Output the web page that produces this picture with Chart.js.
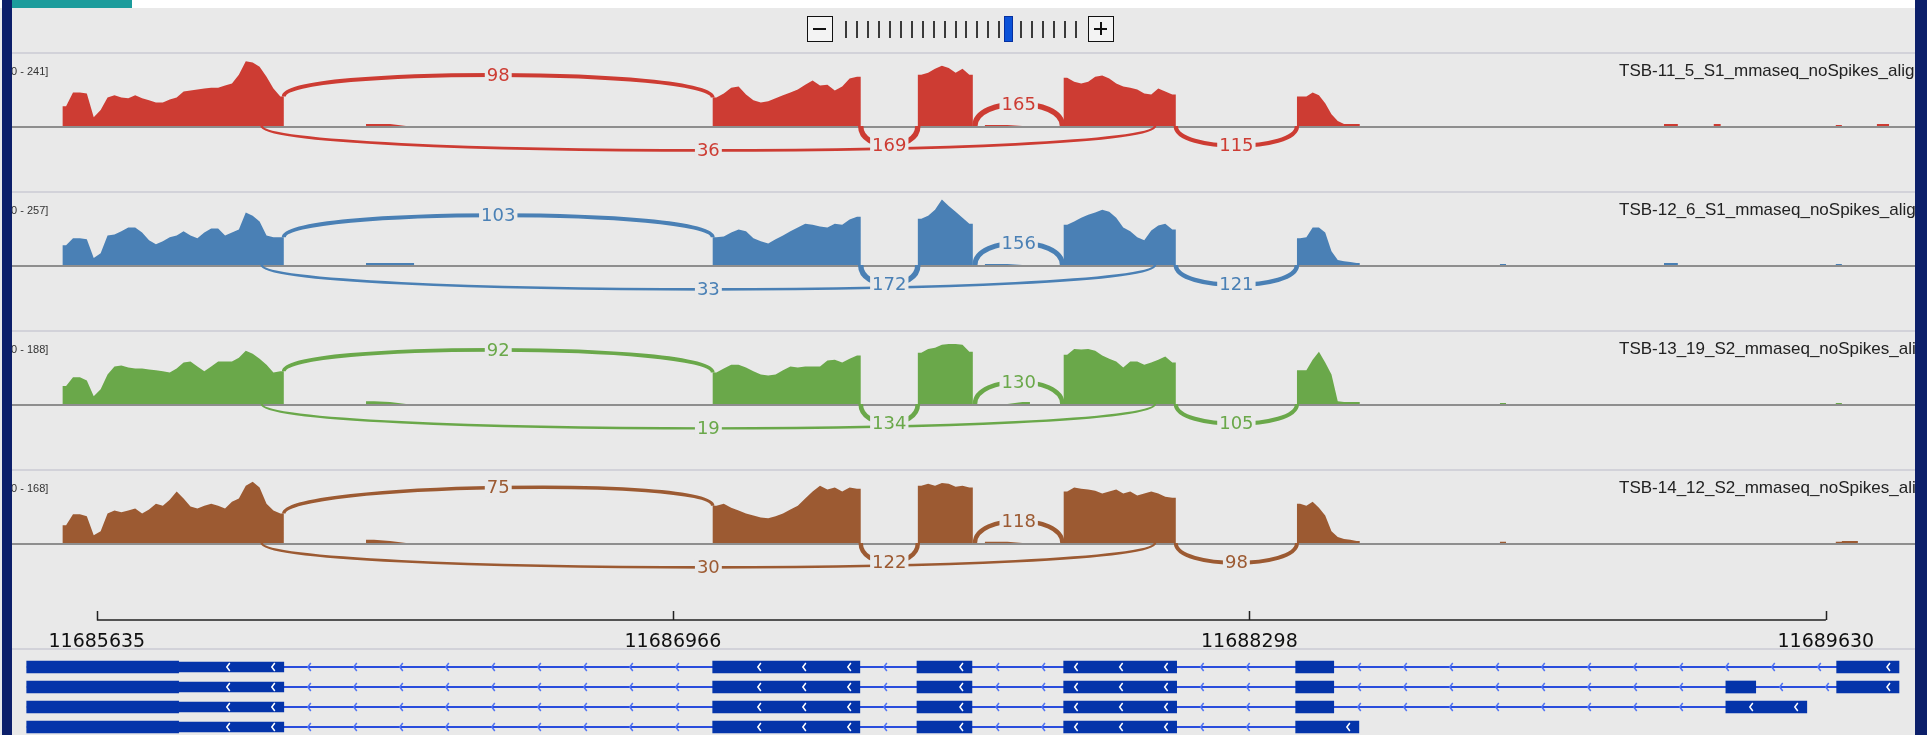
<!DOCTYPE html>
<html lang="en">
<head>
<meta charset="UTF-8">
<title>Sashimi plot</title>
<script src="https://cdn.jsdelivr.net/npm/chart.js"></script>
<style>
    * { margin: 0; padding: 0; box-sizing: border-box; }
    body {
        width: 1927px; height: 735px; overflow: hidden;
        background: #e9e9e9; position: relative;
        font-family: 'Liberation Sans', Arial, sans-serif;
    }
    .abs { position: absolute; }
    canvas { position: absolute; }
    #topStrip { left: 0; top: 0; width: 1927px; height: 8px; background: #fff; }
    #teal { left: 12px; top: 0; width: 120px; height: 8px; background: #1b9c9c; z-index: 6; }
    #navyL { left: 2px; top: 0; width: 10px; height: 735px; background: #0c1f6a; z-index: 5; }
    #navyR { left: 1915px; top: 0; width: 12px; height: 735px; background: #0c1f6a; z-index: 5; }
    .sep { left: 12px; width: 1903px; height: 2px; background: #d2d2d9; }
    .range { left: 8px; font-size: 11px; color: #333; white-space: nowrap; }
    .tname { left: 1619px; font-size: 17px; color: #222; white-space: nowrap; }
    .zbox { width: 26px; height: 26px; border: 1.5px solid #111; background: #f3f3f3; }
    .zbox i { position: absolute; background: #111; }
</style>
</head>
<body>
<div id="topStrip" class="abs"></div>
<div id="teal" class="abs"></div>
<div id="navyL" class="abs"></div>
<div id="navyR" class="abs"></div>

<!-- zoom widget -->
<div class="abs zbox" style="left:807px;top:16px"><i style="left:5px;top:11px;width:13px;height:1.5px"></i></div>
<div class="abs zbox" style="left:1088px;top:16px"><i style="left:5px;top:11px;width:13px;height:1.5px"></i><i style="left:11px;top:5px;width:1.5px;height:13px"></i></div>
<div id="zoomTicks"></div>

<div id="tracks"></div>

<div class="abs sep" style="top:648px"></div>
<canvas id="genes" width="1903" height="80" style="left:12px;top:657px"></canvas>
<canvas id="ruler" width="1903" height="75" style="left:12px;top:590px"></canvas>

<script>
    // genomic window of the data panel
    const viewStart = 11685439;
    const viewEnd = 11689836;
    const rulerTicks = [11685635, 11686966, 11688298, 11689630];

    // covered blocks (exons and small read stacks), each split in equal bins
    const covBlocks = [
        [11685556, 11686067], [11686257, 11686368], [11687058, 11687400], [11687532, 11687659],
        [11687687, 11687791], [11687869, 11688128], [11688408, 11688553],
        [11688877, 11688891], [11689256, 11689288], [11689371, 11689387],
        [11689653, 11689667], [11689667, 11689704], [11689748, 11689776]
    ];

    const trackNames = [
        'TSB-11_5_S1_mmaseq_noSpikes_aligned.bam',
        'TSB-12_6_S1_mmaseq_noSpikes_aligned.bam',
        'TSB-13_19_S2_mmaseq_noSpikes_aligned.bam',
        'TSB-14_12_S2_mmaseq_noSpikes_aligned.bam'
    ];
    const trackRanges = [241, 257, 188, 168];
    const trackColors = ['#cd3c33', '#4a80b5', '#6aa84a', '#9c5a32'];

    const cov1 = [
        [72,122,122,119,32,58,104,112,104,101,112,101,94,86,86,97,104,126,130,133,137,140,140,148,155,187,236,232,216,180,137,108],
        [7,7,0],
        [104,119,140,144,115,94,86,90,101,112,122,133,151,166,148,151,130,144,173,180],
        [187,194,209,220,212,194,209,187],
        [4,4,0],
        [176,162,155,162,180,184,173,155,144,140,133,119,115,137,126,115],
        [108,108,122,112,83,43,18,7,7,7],
        [0],[7],[7],[4],[0],[7]
    ];
    const cov2 = [
        [77,104,104,100,27,46,115,119,131,146,146,127,96,81,92,108,115,131,115,104,127,142,142,115,127,138,204,192,169,115,108,108],
        [8,8,8],
        [108,111,127,138,131,104,92,84,100,115,131,146,161,157,150,146,161,157,177,188],
        [180,192,215,255,230,207,184,161],
        [4,4,0],
        [157,169,184,196,204,215,207,184,146,131,108,96,134,154,161,138],
        [104,108,146,146,127,54,19,15,12,8],
        [4],[8],[0],[4],[0],[0]
    ];
    const cov3 = [
        [51,76,76,67,22,42,84,107,110,104,101,101,98,96,93,90,101,118,121,107,93,107,121,121,121,132,152,143,129,112,90,93],
        [8,6,0],
        [90,101,112,112,104,93,84,81,84,96,107,104,107,107,107,124,126,118,129,138],
        [146,157,160,169,171,171,169,149],
        [0,0,6],
        [140,157,155,157,152,138,129,121,104,121,121,112,118,126,135,118],
        [96,96,126,149,118,84,8,6,6,6],
        [3],[0],[0],[3],[0],[0]
    ];
    const cov4 = [
        [45,73,73,68,20,30,75,83,78,83,88,75,85,100,95,110,131,113,93,88,95,100,95,88,105,113,146,156,141,100,83,75],
        [8,5,0],
        [95,100,90,83,75,70,65,63,68,75,85,95,113,131,146,136,141,131,141,138],
        [146,151,146,153,151,143,146,141],
        [3,3,0],
        [131,141,138,136,133,126,131,136,126,131,121,126,131,126,118,115],
        [100,95,105,90,70,30,15,10,8,5],
        [3],[0],[0],[3],[5],[0]
    ];
    const coverage = [cov1, cov2, cov3, cov4];

    // splice junctions
    const juncStart = [11686067, 11686016, 11687400, 11687664, 11688128];
    const juncEnd   = [11687058, 11688080, 11687532, 11687866, 11688408];
    const juncSide  = ['up', 'down', 'down', 'up', 'down'];
    const juncCounts = [
        [98, 36, 169, 165, 115],
        [103, 33, 172, 156, 121],
        [92, 19, 134, 130, 105],
        [75, 30, 122, 118, 98]
    ];

    // gene model: four transcripts
    const geneRows = ['t1', 't2', 't3', 't4'];
    const utrBlock = [11685824, 11686067];
    const rowExons = [
        [[11685473,11685824],[11687058,11687398],[11687530,11687657],[11687869,11688130],[11688405,11688493],[11689655,11689799]],
        [[11685473,11685824],[11687058,11687398],[11687530,11687657],[11687869,11688130],[11688405,11688493],[11689399,11689468],[11689655,11689799]],
        [[11685473,11685824],[11687058,11687398],[11687530,11687657],[11687869,11688130],[11688405,11688493],[11689399,11689586]],
        [[11685473,11685824],[11687058,11687398],[11687530,11687657],[11687869,11688130],[11688405,11688551]]
    ];

    const BG = '#e9e9e9';
    const trackTops = [53, 192, 331, 470];

    // zoom widget ticks
    const zt = document.getElementById('zoomTicks');
    for (let k = 0; k < 22; k++) {
        const d = document.createElement('div');
        d.className = 'abs';
        if (k === 15) {
            d.style.cssText = 'left:1004px;top:16px;width:9px;height:26px;background:#0b52d8;border:1px solid #0630a0';
        } else {
            d.style.cssText = `left:${845 + k * 10.95}px;top:21px;width:2px;height:17px;background:#3a3a3a`;
        }
        zt.appendChild(d);
    }

    // bin values placed at bin centres, with square edges at block ends
    function covPoints(vals) {
        let pts = [{ x: viewStart, y: 0 }];
        covBlocks.forEach((b, i) => {
            let bins = vals[i];
            let w = (b[1] - b[0]) / bins.length;
            pts.push({ x: b[0], y: 0 }, { x: b[0], y: bins[0] });
            bins.forEach((v, k) => pts.push({ x: b[0] + (k + 0.5) * w, y: v }));
            pts.push({ x: b[1], y: bins[bins.length - 1] }, { x: b[1], y: 0 });
        });
        pts.push({ x: viewEnd, y: 0 });
        return pts;
    }

    function covAt(vals, bp) {
        for (let i = 0; i < covBlocks.length; i++) {
            let [s, e] = covBlocks[i];
            if (bp >= s && bp < e) {
                let w = (e - s) / vals[i].length;
                return vals[i][Math.floor((bp - s) / w)];
            }
        }
        return 0;
    }

    const sashimiArcs = {
        id: 'sashimiArcs',
        beforeDatasetsDraw(chart) {
            const { ctx, chartArea, scales: { y } } = chart;
            const y0 = y.getPixelForValue(0);
            ctx.save();
            ctx.fillStyle = '#8e8e8e';
            ctx.fillRect(chartArea.left, y0, chartArea.right - chartArea.left, 2);
            ctx.restore();
        },
        afterDatasetsDraw(chart, args, opts) {
            const { ctx, scales: { x, y } } = chart;
            const y0 = y.getPixelForValue(0);
            opts.counts.forEach((n, j) => {
                let x1 = x.getPixelForValue(juncStart[j]);
                let x2 = x.getPixelForValue(juncEnd[j]);
                let span = x2 - x1;
                let up = juncSide[j] === 'up';
                let yA = y0, yB = y0, c;
                if (up) {
                    yA = y.getPixelForValue(covAt(opts.vals, juncStart[j] - 1));
                    yB = y.getPixelForValue(covAt(opts.vals, juncEnd[j]));
                    c = -22 / 0.75;
                } else {
                    c = (19 + 0.006 * span) / 0.75;
                }
                ctx.save();
                ctx.strokeStyle = opts.color;
                ctx.lineWidth = 2 + n / 50;
                ctx.beginPath();
                ctx.moveTo(x1, yA);
                ctx.bezierCurveTo(x1, yA + c, x2, yB + c, x2, yB);
                ctx.stroke();

                let xm = (x1 + x2) / 2;
                let ym = (yA + yB) / 2 + 0.75 * c;
                ctx.font = '18px "DejaVu Sans"';
                let label = String(n);
                let tw = ctx.measureText(label).width;
                ctx.fillStyle = BG;
                ctx.fillRect(xm - tw / 2 - 2, ym - 9, tw + 4, 18);
                ctx.fillStyle = opts.color;
                ctx.textAlign = 'center';
                ctx.textBaseline = 'middle';
                ctx.fillText(label, xm, ym + 1);
                ctx.restore();
            });
        }
    };

    const tracksDiv = document.getElementById('tracks');
    coverage.forEach((vals, t) => {
        let top = trackTops[t];
        tracksDiv.insertAdjacentHTML('beforeend', `
            <div class="abs sep" style="top:${top - 1}px"></div>
            <canvas id="cov${t}" width="1903" height="139" style="left:12px;top:${top}px"></canvas>
            <div class="abs range" style="top:${top + 12}px">[0 - ${trackRanges[t]}]</div>
            <div class="abs tname" style="top:${top + 8}px">${trackNames[t]}</div>
        `);
    });

    coverage.forEach((vals, t) => {
        new Chart(document.getElementById('cov' + t), {
            type: 'line',
            data: {
                datasets: [{
                    data: covPoints(vals),
                    fill: 'origin',
                    tension: 0,
                    backgroundColor: trackColors[t],
                    borderColor: trackColors[t],
                    borderWidth: 0,
                    pointRadius: 0
                }]
            },
            options: {
                responsive: false,
                animation: false,
                devicePixelRatio: 1,
                events: [],
                layout: { padding: { top: 7, left: 0, right: 0, bottom: 0 } },
                plugins: {
                    legend: { display: false },
                    tooltip: { enabled: false },
                    sashimiArcs: { counts: juncCounts[t], color: trackColors[t], vals: vals }
                },
                scales: {
                    x: { type: 'linear', min: viewStart, max: viewEnd, display: false },
                    y: { min: -trackRanges[t], max: trackRanges[t], display: false }
                }
            },
            plugins: [sashimiArcs]
        });
    });

    // ruler: line with upward ticks, labels from the axis
    const rulerLine = {
        id: 'rulerLine',
        afterDraw(chart) {
            const { ctx, chartArea, scales: { x } } = chart;
            let yb = chartArea.bottom;
            ctx.save();
            ctx.strokeStyle = '#222';
            ctx.lineWidth = 1.5;
            ctx.beginPath();
            ctx.moveTo(x.getPixelForValue(rulerTicks[0]), yb);
            ctx.lineTo(x.getPixelForValue(rulerTicks[rulerTicks.length - 1]), yb);
            rulerTicks.forEach(v => {
                let px = Math.round(x.getPixelForValue(v)) + 0.5;
                ctx.moveTo(px, yb);
                ctx.lineTo(px, yb - 9);
            });
            ctx.stroke();
            ctx.restore();
        }
    };

    new Chart(document.getElementById('ruler'), {
        type: 'scatter',
        data: { datasets: [{ data: [] }] },
        options: {
            responsive: false,
            animation: false,
            devicePixelRatio: 1,
            events: [],
            layout: { padding: 0 },
            plugins: { legend: { display: false }, tooltip: { enabled: false } },
            scales: {
                x: {
                    type: 'linear', min: viewStart, max: viewEnd, position: 'bottom',
                    grid: { display: false }, border: { display: false },
                    afterBuildTicks: axis => { axis.ticks = rulerTicks.map(v => ({ value: v })); },
                    afterFit: axis => { axis.height = 45; },
                    ticks: {
                        autoSkip: false, maxRotation: 0, padding: 3, color: '#111',
                        font: { size: 19, family: 'DejaVu Sans' },
                        callback: v => String(v)
                    }
                },
                y: { display: false }
            }
        },
        plugins: [rulerLine]
    });

    // gene track
    const exonData = [], utrData = [];
    rowExons.forEach((list, r) => {
        list.forEach(b => exonData.push({ x: b, y: geneRows[r] }));
        utrData.push({ x: utrBlock, y: geneRows[r] });
    });

    function chevron(ctx, px, py, color) {
        ctx.strokeStyle = color;
        ctx.lineWidth = 1.5;
        ctx.beginPath();
        ctx.moveTo(px + 3, py - 4);
        ctx.lineTo(px, py);
        ctx.lineTo(px + 3, py + 4);
        ctx.stroke();
    }

    const geneIntrons = {
        id: 'geneIntrons',
        beforeDatasetsDraw(chart) {
            const { ctx, scales: { x, y } } = chart;
            ctx.save();
            rowExons.forEach((list, r) => {
                let blocks = list.concat([utrBlock]).sort((a, b) => a[0] - b[0]);
                let py = y.getPixelForValue(r);
                ctx.strokeStyle = '#2a4ddc';
                ctx.lineWidth = 2;
                ctx.beginPath();
                ctx.moveTo(x.getPixelForValue(blocks[0][0]), py);
                ctx.lineTo(x.getPixelForValue(blocks[blocks.length - 1][1]), py);
                ctx.stroke();
                for (let i = 0; i < blocks.length - 1; i++) {
                    let a = x.getPixelForValue(blocks[i][1]);
                    let b = x.getPixelForValue(blocks[i + 1][0]);
                    for (let px = a + 24; px < b - 8; px += 46) chevron(ctx, px, py, '#4f72f5');
                }
            });
            ctx.restore();
        },
        afterDatasetsDraw(chart) {
            const { ctx, scales: { x, y } } = chart;
            ctx.save();
            rowExons.forEach((list, r) => {
                let blocks = list.concat([utrBlock]).sort((a, b) => a[0] - b[0]);
                let py = y.getPixelForValue(r);
                blocks.forEach((bl, i) => {
                    if (blocks[i + 1] && blocks[i + 1][0] === bl[1]) return;
                    let a = x.getPixelForValue(bl[0]);
                    let b = x.getPixelForValue(bl[1]);
                    if (b - a < 50) return;
                    for (let px = b - 12; px > a + 8; px -= 45) chevron(ctx, px, py, '#ffffff');
                });
            });
            ctx.restore();
        }
    };

    new Chart(document.getElementById('genes'), {
        type: 'bar',
        data: {
            labels: geneRows,
            datasets: [
                { data: exonData, backgroundColor: '#0434aa', barThickness: 12, grouped: false, borderWidth: 0 },
                { data: utrData, backgroundColor: '#0434aa', barThickness: 10, grouped: false, borderWidth: 0 }
            ]
        },
        options: {
            indexAxis: 'y',
            responsive: false,
            animation: false,
            devicePixelRatio: 1,
            events: [],
            layout: { padding: 0 },
            plugins: { legend: { display: false }, tooltip: { enabled: false } },
            scales: {
                x: { type: 'linear', min: viewStart, max: viewEnd, display: false },
                y: { type: 'category', display: false, offset: true }
            }
        },
        plugins: [geneIntrons]
    });
</script>
</body>
</html>
